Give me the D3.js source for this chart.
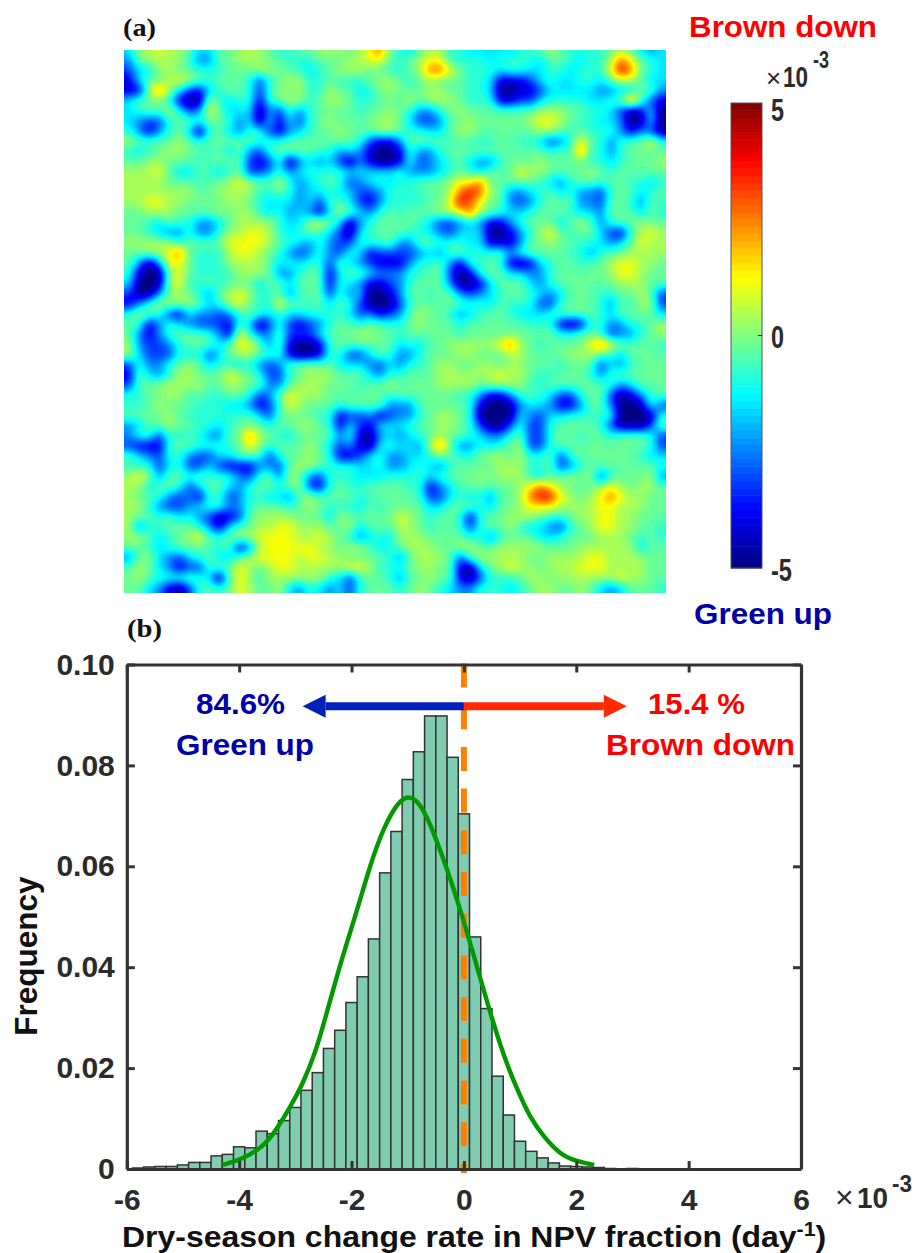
<!DOCTYPE html>
<html>
<head>
<meta charset="utf-8">
<script src="https://cdn.jsdelivr.net/npm/d3@7"></script>
<style>
  body { margin: 0; background: #fff; }
  svg { display: block; }
  text { font-family: "Liberation Sans", Arial, sans-serif; font-weight: bold; }
</style>
</head>
<body>
<svg id="svg" width="915" height="1253"></svg>
<script>
// map (a): one char per cell, see heatLevels for the meaning
const heatRows = [
  "477877644 667776556 677767896 546775544 444556765 555676434",
  "367777533 667776655 566677886 567885555 455554665 455798654",
  "244776655 566677665 456777665 567998655 545544554 5558a9654",
  "146678765 666525677 556555677 656766655 411124544 554677644",
  "117974214 566525767 557664567 666776655 400112444 443344663",
  "466651007 545515677 567765566 676777655 511224555 544569621",
  "456675238 644403253 566665667 653356766 666667776 655420140",
  "432256656 653404142 567666677 642236676 666678876 554430040",
  "531356405 643552134 566766677 655446776 666667765 655531320",
  "766667656 666655566 666665211 366665655 566554235 865356685",
  "545677665 646325666 655343100 153356666 666666565 955356666",
  "667766656 666212503 434203100 152345643 356667666 655456667",
  "777864465 456223534 555544444 533345654 666877666 676566666",
  "777766656 678766753 456523454 556667889 666665435 665665545",
  "777777766 777755653 445442235 5556679a9 763345645 332566456",
  "778877666 677654443 425642135 555668a98 663235666 332665365",
  "667776666 767754534 314764356 566677897 654456665 443666465",
  "665465533 467777544 786403566 665422343 113566646 763566766",
  "665433533 577887545 654204566 655432444 001357865 664215787",
  "777775666 688887654 353225556 336655544 111366766 554346877",
  "667789655 578876532 353254122 223436655 563566665 535667777",
  "630388655 577776454 552643211 135563155 651014566 566788776",
  "510068655 557776335 661466433 355662015 664433566 666788766",
  "400078556 566646646 661543112 356663001 466643566 666677766",
  "200367653 678755635 662534001 366566323 456654346 665566762",
  "135777764 578655866 564652000 256666655 465552256 665365772",
  "576521433 235654544 555542312 367665345 665444566 665466664",
  "651354322 215402521 235665665 567666566 666655510 155335567",
  "631356665 318533622 246667766 566666566 666666655 665233567",
  "732235666 468863610 015666666 454667777 789765666 689866665",
  "742225452 467765510 015522465 335666776 667766667 776546666",
  "253356764 554532366 766444324 355677667 767766656 662435666",
  "164357766 687652256 777666435 566677777 787765566 653566666",
  "266777776 677663367 776665667 666677776 777755666 666534666",
  "556677565 566523687 776666665 666666553 113565422 566201356",
  "556766655 544312587 666566663 336666651 000344311 366300052",
  "666676555 555642666 655122312 335677650 000432445 555500005",
  "346676655 456665667 765142144 456677652 002522566 665200026",
  "355255553 366976546 666351034 345676654 335622566 566566652",
  "211156655 556875666 764231045 443796335 456722566 666666652",
  "643255322 446652566 765112453 344566556 776755625 666666544",
  "555245224 211133267 765554453 345435666 677755623 566666665",
  "787366565 553256376 325554445 555456667 677754667 672566673",
  "774665246 643566567 215655666 655134666 666789876 667876776",
  "766532315 523554436 766665566 665224545 36679aa87 678987766",
  "775322345 533566656 765554656 666446665 466788877 778877766",
  "766564532 012677776 664766666 876566515 667776556 778877666",
  "735566653 146677887 776674666 776566525 667544325 678877665",
  "776456786 567788887 787653454 777666655 356664456 667776565",
  "665456665 561378888 877677645 677766776 677777666 777777466",
  "367432456 446788887 887766665 367776267 777766777 788777766",
  "676431225 668767887 777788755 567766104 678776777 888777766",
  "676555654 068757777 775425665 366766102 555677677 777787766",
  "664310256 568766743 543425666 567654335 554567766 764346665"
];
const heatLevels = {0: -5, 1: -4.2, 2: -3.2, 3: -2.4, 4: -1.5, 5: -0.85, 6: -0.3, 7: 0.35, 8: 1.15, 9: 2.7, a: 3.9};

// histogram (b): left edge of each bin and its frequency
const binLeft = [-5.9, -5.7, -5.5, -5.3, -5.1, -4.9, -4.7, -4.5, -4.3, -4.1, -3.9, -3.7, -3.5, -3.3, -3.1,
  -2.9, -2.7, -2.5, -2.3, -2.1, -1.9, -1.7, -1.5, -1.3, -1.1, -0.9, -0.7, -0.5, -0.3, -0.1,
  0.1, 0.3, 0.5, 0.7, 0.9, 1.1, 1.3, 1.5, 1.7, 1.9, 2.1, 2.3, 2.5, 2.9];
const binFreq = [0.0002, 0.0004, 0.0005, 0.0005, 0.0008, 0.0013, 0.0013, 0.0026, 0.0029, 0.0044, 0.0042, 0.0075, 0.0070, 0.0096, 0.0122,
  0.0156, 0.0191, 0.0239, 0.0275, 0.0330, 0.0381, 0.0456, 0.0587, 0.0669, 0.0772, 0.0827, 0.0898, 0.0898, 0.0816, 0.0704,
  0.0460, 0.0318, 0.0184, 0.0107, 0.0055, 0.0035, 0.0022, 0.0012, 0.0006, 0.0005, 0.0004, 0.0003, 0.0001, 0.0001];
const binWidth = 0.2;

// fitted curve, read point by point
const curveX = [-4.3, -3.97, -3.56, -3.32, -3.09, -2.88, -2.64, -2.41, -2.17, -1.90, -1.66, -1.43, -1.19, -0.99, -0.77, -0.54, -0.30, -0.06, 0.20, 0.47, 0.71, 0.95, 1.18, 1.42, 1.72, 2.01, 2.32];
const curveY = [0.0008, 0.0018, 0.0044, 0.0081, 0.0123, 0.0166, 0.023, 0.0322, 0.0418, 0.0513, 0.0606, 0.0676, 0.0725, 0.0742, 0.0725, 0.0668, 0.0595, 0.0513, 0.0414, 0.0309, 0.0223, 0.0157, 0.0101, 0.0064, 0.0028, 0.0015, 0.0008];

const xTicks = [-6, -4, -2, 0, 2, 4, 6];
const yTicks = [0, 0.02, 0.04, 0.06, 0.08, 0.10];
const colorTicks = [-5, 0, 5];
const arrowEnds = {blue: -2.87, red: 2.9};

const svg = d3.select("#svg");
const ink = "#2b2b2b";

// jet colormap
const jet = d3.scaleLinear()
  .domain([-5, -3.75, -1.25, 1.25, 3.75, 5])
  .range(["#00007f", "#0000ff", "#00ffff", "#ffff00", "#ff0000", "#7f0000"])
  .clamp(true);

// ---- panel (a)
function drawMap() {
  const rows = heatRows.map(r => r.replace(/ /g, ""));
  const n = rows[0].length, m = rows.length;
  // repeat each cell k times with a small margin so the blur keeps the square corners
  const k = 3, pad = 6;
  const w = n * k + 2 * pad, h = m * k + 2 * pad;
  const values = new Float64Array(w * h);
  for (let j = 0; j < h; j++) {
    const r = rows[Math.max(0, Math.min(m - 1, Math.floor((j - pad) / k)))];
    for (let i = 0; i < w; i++) {
      values[j * w + i] = heatLevels[r[Math.max(0, Math.min(n - 1, Math.floor((i - pad) / k)))]];
    }
  }
  d3.blur2({data: values, width: w, height: h}, 1);

  const hx = d3.scaleLinear().domain([pad, pad + n * k]).range([124, 666]);
  const hy = d3.scaleLinear().domain([pad, pad + m * k]).range([45, 593]);
  const step = 10 / 64;
  const thresholds = d3.range(-5, 5, step);
  const contours = d3.contours().size([w, h]).thresholds(thresholds)(values);
  const path = d3.geoPath(d3.geoTransform({
    point: function(x, y) { this.stream.point(hx(x), hy(y)); }
  }));

  svg.append("clipPath").attr("id", "map-clip").append("rect")
    .attr("x", 124).attr("y", 50).attr("width", 542).attr("height", 543);

  const g = svg.append("g").attr("clip-path", "url(#map-clip)");
  // navy underneath, the lowest level is the only one that can leave a gap
  g.append("rect")
    .attr("x", 124).attr("y", 50).attr("width", 542).attr("height", 543)
    .attr("fill", jet(-5));
  g.selectAll("path")
    .data(contours)
    .join("path")
    .attr("d", path)
    .attr("fill", d => jet(d.value + step / 2));

  svg.append("text").text("(a)")
    .attr("x", 123).attr("y", 36)
    .attr("textLength", 33).attr("lengthAdjust", "spacingAndGlyphs")
    .style("font-family", '"Liberation Serif", serif').style("font-size", "26px").attr("fill", "#111");
}

// ---- colorbar
function drawColorbar() {
  const cy = d3.scaleLinear().domain([-5, 5]).range([568, 103]);
  const levels = d3.range(-5, 5, 10 / 64);
  svg.append("g").selectAll("rect")
    .data(levels)
    .join("rect")
    .attr("x", 731).attr("width", 31)
    .attr("y", d => cy(d + 10 / 64))
    .attr("height", d => cy(d) - cy(d + 10 / 64) + 0.5)
    .attr("fill", d => jet(d + 5 / 64));
  svg.append("rect")
    .attr("x", 731).attr("y", 103).attr("width", 31).attr("height", 465)
    .attr("fill", "none").attr("stroke", "#555").attr("stroke-width", 1);
  svg.append("line")
    .attr("x1", 758).attr("x2", 762).attr("y1", cy(0)).attr("y2", cy(0))
    .attr("stroke", "#222");

  svg.append("g").selectAll("text")
    .data(colorTicks)
    .join("text")
    .text(d => d)
    .attr("x", 771)
    .attr("y", d => cy(d) + (d === 5 ? 18 : d === 0 ? 12 : 13))
    .attr("textLength", d => d < 0 ? 21 : 13)
    .attr("lengthAdjust", "spacingAndGlyphs")
    .style("font-size", "31px").attr("fill", ink);

  times10(766, 87, 26, 30, 783, 813, 68, 23, 25, 16);

  textFit("Brown down", 689, 37, 188, "#ff0000");
  textFit("Green up", 694, 624, 138, "#0000a8");
}

function textFit(s, x, y, len, fill) {
  return svg.append("text").text(s)
    .attr("x", x).attr("y", y).attr("fill", fill)
    .attr("textLength", len).attr("lengthAdjust", "spacingAndGlyphs")
    .style("font-size", "30px");
}

function times10(x, y, crossSize, size, x10, xExp, yExp, sizeExp, len10, lenExp) {
  svg.append("text").text("\u00d7")
    .attr("x", x).attr("y", y)
    .style("font-weight", "normal").style("font-size", crossSize + "px").attr("fill", ink);
  svg.append("text").text("10")
    .attr("x", x10).attr("y", y)
    .attr("textLength", len10).attr("lengthAdjust", "spacingAndGlyphs")
    .style("font-size", size + "px").attr("fill", ink);
  svg.append("text").text("-3")
    .attr("x", xExp).attr("y", yExp)
    .attr("textLength", lenExp).attr("lengthAdjust", "spacingAndGlyphs")
    .style("font-size", sizeExp + "px").attr("fill", ink);
}

// ---- panel (b)
function drawHistogram() {
  const x = d3.scaleLinear().domain([-6, 6]).range([126.8, 801]);
  const y = d3.scaleLinear().domain([0, 0.1]).range([1169, 664.5]);

  svg.append("text").text("(b)")
    .attr("x", 127).attr("y", 637)
    .attr("textLength", 35).attr("lengthAdjust", "spacingAndGlyphs")
    .style("font-family", '"Liberation Serif", serif').style("font-size", "26px").attr("fill", "#111");

  svg.append("g").selectAll("rect")
    .data(binLeft)
    .join("rect")
    .attr("x", d => x(d))
    .attr("width", d => x(d + binWidth) - x(d))
    .attr("y", (d, i) => y(binFreq[i]))
    .attr("height", (d, i) => y(0) - y(binFreq[i]))
    .attr("fill", "#80ccb0")
    .attr("stroke", "#333")
    .attr("stroke-width", 1.5);

  // zero line
  svg.append("line")
    .attr("x1", x(0)).attr("x2", x(0))
    .attr("y1", y(0.1) - 1).attr("y2", y(0) + 4)
    .attr("stroke", "#ff8000").attr("stroke-width", 6)
    .attr("stroke-dasharray", "24,17.7");

  const line = d3.line()
    .x((d, i) => x(curveX[i]))
    .y((d, i) => y(curveY[i]))
    .curve(d3.curveBasis);
  svg.append("path")
    .attr("d", line(curveX))
    .attr("fill", "none")
    .attr("stroke", "#009900")
    .attr("stroke-width", 4.4);

  // axes, ticks point inwards on all four sides
  const frame = svg.append("g").attr("class", "frame");
  const xAxis = frame.append("g").attr("transform", `translate(0,${y(0)})`)
    .call(d3.axisBottom(x).tickValues(xTicks).tickFormat(d => d).tickSizeInner(-8).tickSizeOuter(0).tickPadding(20));
  const yAxis = frame.append("g").attr("transform", `translate(${x(-6)},0)`)
    .call(d3.axisLeft(y).tickValues(yTicks).tickFormat(d => d === 0 ? "0" : d3.format(".2f")(d)).tickSizeInner(-8).tickSizeOuter(0).tickPadding(12));
  frame.append("g").attr("transform", `translate(0,${y(0.1)})`)
    .call(d3.axisTop(x).tickValues(xTicks).tickFormat("").tickSizeInner(-8).tickSizeOuter(0));
  frame.append("g").attr("transform", `translate(${x(6)},0)`)
    .call(d3.axisRight(y).tickValues(yTicks).tickFormat("").tickSizeInner(-8).tickSizeOuter(0));
  frame.selectAll(".domain").attr("stroke", "#333").attr("stroke-width", 3.2);
  frame.selectAll(".tick line").attr("stroke", "#333").attr("stroke-width", 3);
  xAxis.selectAll("text").style("font-size", "30px").attr("fill", ink);
  yAxis.selectAll("text").style("font-size", "30px").attr("fill", ink);

  // arrows
  const ay = y(0.0917);
  arrow(x(0), x(arrowEnds.blue), ay, "#0022bb");
  arrow(x(0), x(arrowEnds.red), ay, "#ff2a00");

  textFit("84.6%", 196, 714, 89, "#0000a8");
  textFit("Green up", 176, 755, 138, "#0000a8");
  textFit("15.4 %", 648, 714, 97, "#ff0000");
  textFit("Brown down", 606, 755, 189, "#ff0000");

  times10(835, 1208, 32, 30, 857, 892, 1192, 23, 31, 20);

  svg.append("text")
    .attr("transform", "translate(37,956) rotate(-90)")
    .attr("text-anchor", "middle")
    .attr("fill", "#111")
    .style("font-size", "31.5px")
    .text("Frequency");

  const xl = svg.append("text")
    .attr("transform", "translate(122,1247) scale(1.065,1)")
    .attr("fill", "#111").style("font-size", "30px");
  xl.append("tspan").text("Dry-season change rate in NPV fraction (day");
  xl.append("tspan").text("-1").attr("dy", -11).style("font-size", "20px");
  xl.append("tspan").text(")").attr("dy", 11);
}

function arrow(x0, x1, yp, color) {
  const dir = x1 < x0 ? -1 : 1;
  const headLen = 23;
  svg.append("line")
    .attr("x1", x0).attr("x2", x1 - dir * headLen)
    .attr("y1", yp).attr("y2", yp)
    .attr("stroke", color).attr("stroke-width", 8);
  svg.append("path")
    .attr("d", d3.line()([[x1, yp], [x1 - dir * headLen, yp - 11.5], [x1 - dir * headLen, yp + 11.5]]))
    .attr("fill", color);
}

drawMap();
drawColorbar();
drawHistogram();
</script>
</body>
</html>
